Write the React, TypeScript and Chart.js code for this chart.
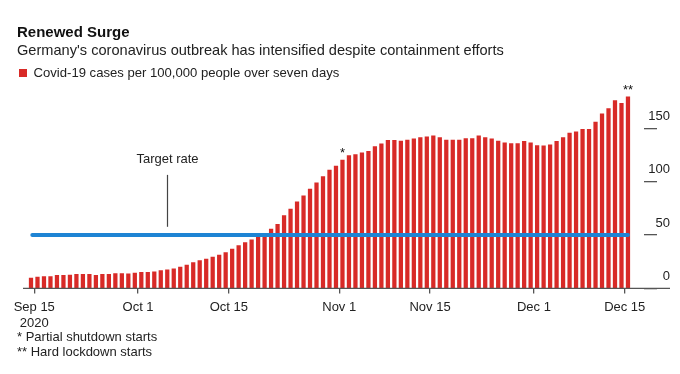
import React, { useEffect, useRef } from 'react';
import { Chart, registerables } from 'chart.js';

Chart.register(...registerables);

const FONT = "'Liberation Sans', Arial, Helvetica, sans-serif";

// Daily values, Sep 15 2020 (index 0) through Dec 16 2020 (index 92)
const startDate = '2020-09-15';
const caseRate = [
  9.7, 10.6, 11.2, 11.2, 12.2, 12.2, 12.4, 13.1, 13.1, 13.1, 12.2, 13.1, 13.1, 14.0, 14.0, 13.8,
  14.4, 15.0, 15.0, 15.6, 16.8, 17.5, 18.4, 20.0, 21.8, 24.3, 26.2, 27.5, 29.3, 31.2, 33.6, 36.8, 40.2, 43.0,
  45.5, 49.3, 49.3, 55.6, 60.0, 68.4, 74.4, 81.2, 86.9, 93.2, 99.1, 105.0, 110.9, 114.7, 120.3,
  124.5, 125.6, 127.1, 128.7, 133.0, 135.7, 139.0, 139.0, 138.2, 139.1, 140.4, 141.6, 142.2, 143.2, 141.5, 139.1,
  139.1, 139.1, 140.5, 140.5, 143.2, 141.6, 140.2, 138.3, 136.6, 135.8, 135.8, 138.0, 136.6, 134.0, 133.8, 134.7,
  138.0, 141.5, 145.8, 146.8, 149.3, 149.3, 156.0, 163.8, 168.6, 176.2, 173.6, 179.8,
];

const targetRate = [50, 50];
const targetDays = [0.2, 92];

const tickDates = ['2020-09-15', '2020-10-01', '2020-10-15', '2020-11-01', '2020-11-15', '2020-12-01', '2020-12-15'];
const tickLabels: (string | string[])[] = [['Sep 15', '2020'], 'Oct 1', 'Oct 15', 'Nov 1', 'Nov 15', 'Dec 1', 'Dec 15'];
const yTicks = [0, 50, 100, 150];

const markerDates = ['2020-11-02', '2020-12-16'];
const markerTexts = ['*', '**'];
const footnotes = ['* Partial shutdown starts', '** Hard lockdown starts'];

const targetNote = { text: 'Target rate', day: 21, labelAt: 121, lineFrom: 106.5, lineTo: 57.8 };

const DAY = 86400000;
const dayIndex = (iso: string) => Math.round((Date.parse(iso) - Date.parse(startDate)) / DAY);

const X_MIN = -1.233;
const X_MAX = 94.47;
const Y_MAX = 186.5;

const annotPlugin = {
  id: 'annot',
  afterDraw(chart: any) {
    const { ctx, chartArea } = chart;
    const x = chart.scales.x;
    const y = chart.scales.y;
    ctx.save();
    const y0 = y.getPixelForValue(0);
    ctx.strokeStyle = '#555';
    ctx.lineWidth = 1.3;
    ctx.beginPath();
    ctx.moveTo(chartArea.left, y0);
    ctx.lineTo(chart.width - 10, y0);
    ctx.stroke();

    ctx.fillStyle = '#111';
    ctx.font = `13px ${FONT}`;
    ctx.textAlign = 'center';
    ctx.textBaseline = 'alphabetic';
    markerDates.forEach((d, i) => {
      const idx = dayIndex(d);
      ctx.fillText(markerTexts[i], x.getPixelForValue(idx), y.getPixelForValue(caseRate[idx]) - 3);
    });

    const tx = Math.round(x.getPixelForValue(targetNote.day)) + 0.5;
    ctx.strokeStyle = '#444';
    ctx.lineWidth = 1.2;
    ctx.beginPath();
    ctx.moveTo(tx, y.getPixelForValue(targetNote.lineFrom));
    ctx.lineTo(tx, y.getPixelForValue(targetNote.lineTo));
    ctx.stroke();
    ctx.fillStyle = '#222';
    ctx.textBaseline = 'middle';
    ctx.fillText(targetNote.text, tx, y.getPixelForValue(targetNote.labelAt));

    ctx.textAlign = 'left';
    footnotes.forEach((f, i) => ctx.fillText(f, 17, 337.5 + i * 14.5));
    ctx.restore();
  },
};

export default function App() {
  const ref = useRef<HTMLCanvasElement>(null);
  useEffect(() => {
    if (!ref.current) return;
    const chart = new Chart(ref.current, {
      type: 'bar',
      data: {
        datasets: [
          {
            type: 'bar',
            label: 'Covid-19 cases per 100,000 people over seven days',
            data: caseRate.map((v, i) => ({ x: i, y: v })),
            backgroundColor: '#d82a27',
            borderWidth: 0,
            barThickness: 3.6,
            order: 1,
            yAxisID: 'y',
          },
          {
            type: 'line',
            label: 'Target rate',
            data: targetDays.map((d, i) => ({ x: d, y: targetRate[i] })),
            borderColor: '#1e84d4',
            borderWidth: 4,
            borderCapStyle: 'round',
            pointRadius: 0,
            order: 0,
            yAxisID: 'y',
          },
        ] as any,
      },
      options: {
        animation: false,
        responsive: false,
        devicePixelRatio: 1,
        layout: { padding: { left: 17, right: 10, top: 0, bottom: 36.6 } },
        plugins: {
          title: {
            display: true,
            text: 'Renewed Surge',
            align: 'start',
            color: '#111',
            font: { family: FONT, size: 15, weight: 'bold', lineHeight: 1.2 },
            padding: { top: 24, bottom: 0 },
          },
          subtitle: {
            display: true,
            text: "Germany's coronavirus outbreak has intensified despite containment efforts",
            align: 'start',
            color: '#222',
            font: { family: FONT, size: 14.6, lineHeight: 1.15 },
            padding: { top: 1, bottom: 4.7 },
          },
          legend: {
            display: true,
            position: 'top',
            align: 'start',
            labels: {
              filter: (item: any) => item.datasetIndex === 0,
              boxWidth: 8,
              boxHeight: 8,
              padding: 2,
              color: '#222',
              font: { family: FONT, size: 13.1 },
            },
          },
          tooltip: { enabled: false },
        },
        scales: {
          x: {
            type: 'linear',
            min: X_MIN,
            max: X_MAX,
            offset: false,
            afterBuildTicks: (s: any) => {
              s.ticks = tickDates.map((d) => ({ value: dayIndex(d) + 0.5 }));
            },
            ticks: {
              autoSkip: false,
              maxRotation: 0,
              padding: 6,
              color: '#222',
              font: { family: FONT, size: 13, lineHeight: 1.23 },
              callback: (_v: any, i: number) => tickLabels[i],
            },
            grid: { offset: false, drawOnChartArea: false, drawTicks: true, tickLength: 5, color: '#555', lineWidth: 1.3 },
            border: { display: false },
          },
          y: {
            position: 'right',
            min: 0,
            max: Y_MAX,
            afterBuildTicks: (s: any) => {
              s.ticks = yTicks.map((v) => ({ value: v }));
            },
            afterFit: (s: any) => {
              s.width = 26;
            },
            ticks: {
              padding: -11,
              crossAlign: 'far',
              labelOffset: -12,
              color: '#222',
              font: { family: FONT, size: 13 },
            },
            grid: { drawOnChartArea: false, tickLength: 13, color: '#555', lineWidth: 1.3 },
            border: { display: false },
          },
          yl: {
            position: 'left',
            min: 0,
            max: Y_MAX,
            ticks: { display: false },
            grid: { display: false },
            border: { display: false },
            afterFit: (s: any) => {
              s.width = 6;
            },
          },
        },
      } as any,
      plugins: [annotPlugin],
    });
    return () => chart.destroy();
  }, []);

  return (
    <div style={{ position: 'fixed', left: 0, top: 0, width: 680, height: 374, background: '#fff' }}>
      <canvas ref={ref} width={680} height={374} style={{ display: 'block' }} />
    </div>
  );
}
